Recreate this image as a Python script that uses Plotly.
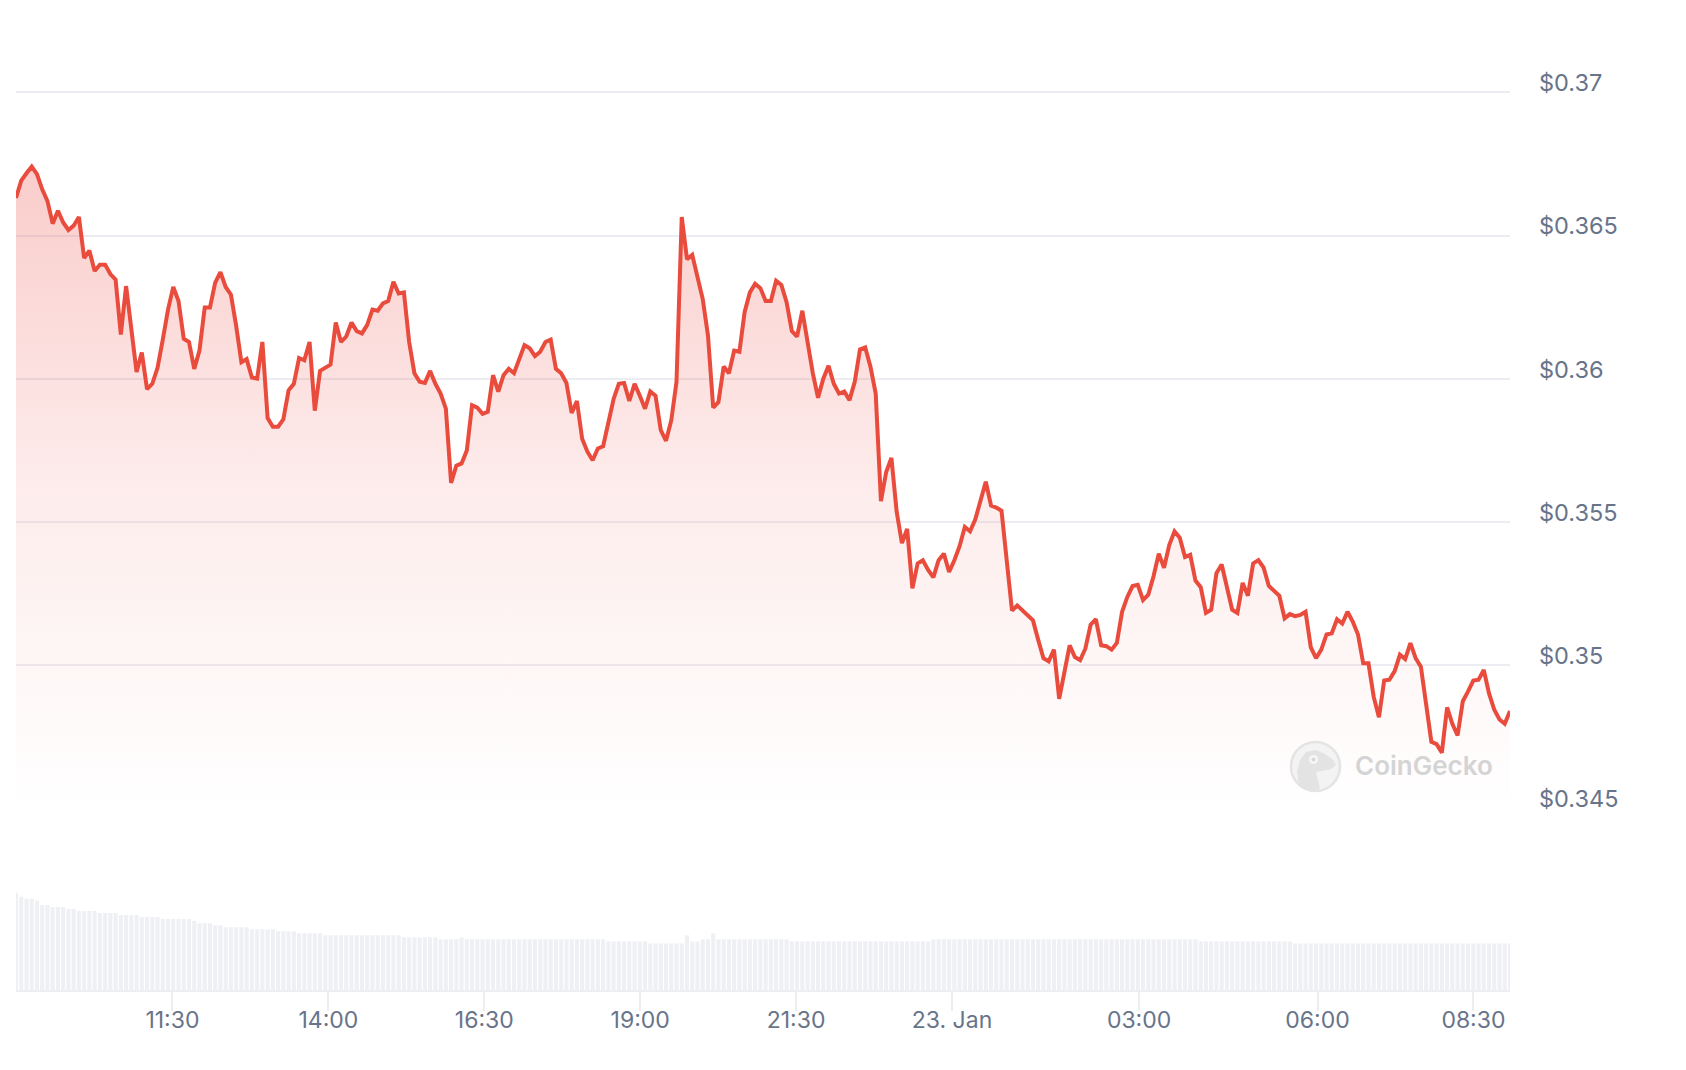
import pandas as pd
import plotly.graph_objects as go

# ---------------- data ----------------
start_time = "2025-01-22 08:59:30"
step_seconds = 302.6          # sampling step of the series
gap_after_index = 231         # a short hole in the data (early on 23 Jan) ...
gap_seconds = 500             # ... that the time axis compresses

prices = [
    0.36632, 0.36692, 0.36718, 0.36741, 0.36715, 0.36662, 0.36621, 0.36542, 0.36587, 0.36546,
    0.36520, 0.36535, 0.36565, 0.36422, 0.36448, 0.36377, 0.36399, 0.36399, 0.36366, 0.36347,
    0.36155, 0.36324, 0.36174, 0.36024, 0.36092, 0.35964, 0.35983, 0.36039, 0.36137, 0.36242,
    0.36321, 0.36272, 0.36140, 0.36129, 0.36035, 0.36099, 0.36249, 0.36249, 0.36336, 0.36373,
    0.36321, 0.36294, 0.36185, 0.36058, 0.36069, 0.36005, 0.36001, 0.36129, 0.35863, 0.35833,
    0.35833, 0.35859, 0.35960, 0.35983, 0.36073, 0.36065, 0.36129, 0.35889, 0.36028, 0.36039,
    0.36050, 0.36197, 0.36129, 0.36148, 0.36197, 0.36167, 0.36159, 0.36189, 0.36242, 0.36238,
    0.36264, 0.36272, 0.36339, 0.36298, 0.36302, 0.36129, 0.36020, 0.35990, 0.35986, 0.36028,
    0.35983, 0.35949, 0.35896, 0.35637, 0.35697, 0.35705, 0.35750, 0.35908, 0.35900, 0.35878,
    0.35885, 0.36013, 0.35956, 0.36013, 0.36035, 0.36020, 0.36073, 0.36118, 0.36107, 0.36080,
    0.36095, 0.36129, 0.36137, 0.36035, 0.36020, 0.35986, 0.35881, 0.35923, 0.35791, 0.35746,
    0.35716, 0.35757, 0.35765, 0.35848, 0.35930, 0.35983, 0.35986, 0.35923, 0.35983, 0.35941,
    0.35896, 0.35956, 0.35941, 0.35821, 0.35784, 0.35855, 0.35990, 0.36565, 0.36418, 0.36433,
    0.36362, 0.36279, 0.36152, 0.35900, 0.35919, 0.36043, 0.36020, 0.36099, 0.36095, 0.36234,
    0.36302, 0.36332, 0.36317, 0.36272, 0.36272, 0.36343, 0.36328, 0.36268, 0.36167, 0.36148,
    0.36238, 0.36129, 0.36020, 0.35934, 0.36001, 0.36046, 0.35983, 0.35949, 0.35956, 0.35926,
    0.35990, 0.36103, 0.36110, 0.36043, 0.35949, 0.35573, 0.35675, 0.35724, 0.35536, 0.35427,
    0.35476, 0.35269, 0.35356, 0.35367, 0.35333, 0.35307, 0.35367, 0.35390, 0.35326, 0.35367,
    0.35416, 0.35483, 0.35468, 0.35510, 0.35570, 0.35641, 0.35558, 0.35551, 0.35540, 0.35367,
    0.35191, 0.35209, 0.35191, 0.35176, 0.35157, 0.35089, 0.35025, 0.35014, 0.35055, 0.34883,
    0.34977, 0.35070, 0.35029, 0.35018, 0.35059, 0.35142, 0.35161, 0.35070, 0.35067, 0.35055,
    0.35078, 0.35187, 0.35239, 0.35277, 0.35281, 0.35228, 0.35247, 0.35311, 0.35390, 0.35341,
    0.35420, 0.35468, 0.35446, 0.35378, 0.35386, 0.35296, 0.35273, 0.35183, 0.35194, 0.35322,
    0.35352, 0.35273, 0.35194, 0.35183, 0.35288, 0.35243, 0.35356, 0.35367, 0.35341, 0.35277,
    0.35258, 0.35243, 0.35164, 0.35179, 0.35172, 0.35176, 0.35187, 0.35063, 0.35025, 0.35055,
    0.35108, 0.35112, 0.35161, 0.35146, 0.35187, 0.35153, 0.35108, 0.35007, 0.35007, 0.34890,
    0.34819, 0.34947, 0.34950, 0.34980, 0.35037, 0.35022, 0.35078, 0.35025, 0.34995, 0.34875,
    0.34733, 0.34725, 0.34695, 0.34853, 0.34796, 0.34755, 0.34875, 0.34909, 0.34947, 0.34950,
    0.34984, 0.34902, 0.34845, 0.34811, 0.34796, 0.34841,
]

volumes = [
    288, 276, 270, 270, 264, 252, 252, 246, 246, 246,
    240, 240, 234, 234, 234, 234, 228, 228, 228, 228,
    222, 222, 222, 222, 216, 216, 216, 216, 210, 210,
    210, 210, 210, 210, 204, 198, 198, 198, 192, 192,
    186, 186, 186, 186, 186, 180, 180, 180, 180, 180,
    174, 174, 174, 174, 168, 168, 168, 168, 168, 162,
    162, 162, 162, 162, 162, 162, 162, 162, 162, 162,
    162, 162, 162, 162, 156, 156, 156, 156, 156, 156,
    156, 150, 150, 150, 150, 156, 150, 150, 150, 150,
    150, 150, 150, 150, 150, 150, 150, 150, 150, 150,
    150, 150, 150, 150, 150, 150, 150, 150, 150, 150,
    150, 150, 150, 144, 144, 144, 144, 144, 144, 144,
    144, 138, 138, 138, 138, 138, 138, 138, 162, 144,
    144, 150, 150, 168, 150, 150, 150, 150, 150, 150,
    150, 150, 150, 150, 150, 150, 150, 150, 144, 144,
    144, 144, 144, 144, 144, 144, 144, 144, 144, 144,
    144, 144, 144, 144, 144, 144, 144, 144, 144, 144,
    144, 144, 144, 144, 144, 150, 150, 150, 150, 150,
    150, 150, 150, 150, 150, 150, 150, 150, 150, 150,
    150, 150, 150, 150, 150, 150, 150, 150, 150, 150,
    150, 150, 150, 150, 150, 150, 150, 150, 150, 150,
    150, 150, 150, 150, 150, 150, 150, 150, 150, 150,
    150, 150, 150, 150, 150, 150, 144, 144, 144, 144,
    144, 144, 144, 144, 144, 144, 144, 144, 144, 144,
    144, 144, 144, 144, 138, 138, 138, 138, 138, 138,
    138, 138, 138, 138, 138, 138, 138, 138, 138, 138,
    138, 138, 138, 138, 138, 138, 138, 138, 138, 138,
    138, 138, 138, 138, 138, 138, 138, 138, 138, 138,
    138, 138, 138, 138, 138, 138,
]

x_tick_values = [
    "2025-01-22 11:30", "2025-01-22 14:00", "2025-01-22 16:30", "2025-01-22 19:00",
    "2025-01-22 21:30", "2025-01-23 00:00", "2025-01-23 03:00", "2025-01-23 06:00",
    "2025-01-23 08:30",
]
x_tick_labels = ["11:30", "14:00", "16:30", "19:00", "21:30", "23. Jan", "03:00", "06:00", "08:30"]

y_tick_values = [0.345, 0.35, 0.355, 0.36, 0.365, 0.37]
y_tick_labels = ["$0.345", "$0.35", "$0.355", "$0.36", "$0.365", "$0.37"]

# timestamps: regular sampling with one hole after gap_after_index
t0 = pd.Timestamp(start_time)
step = pd.Timedelta(seconds=step_seconds)
gap = pd.Timedelta(seconds=gap_seconds)
times = [t0 + i * step + (gap if i > gap_after_index else pd.Timedelta(0)) for i in range(len(prices))]
break_start = times[gap_after_index] + step / 2
break_end = break_start + gap

# ---------------- styling ----------------
# the page body adds an 8px offset, so the figure is 8px smaller on each side
OFF = 8
W, H = 1670, 1054
ML, MR, MT, MB = 8, 168, 0, 72
PW, PH = W - ML - MR, H - MT - MB

LINE = "#e94b3c"
LABEL = "#677489"
GRID = "#ecedf2"
FONT = "Inter"


def px(x, y):
    """page pixel -> paper coords"""
    x -= OFF
    y -= OFF
    return (x - ML) / PW, (PH - (y - MT)) / PH


fig = go.Figure()

fig.add_trace(go.Bar(
    x=times, y=volumes, yaxis="y2", xaxis="x",
    marker=dict(color="#eff0f4", line=dict(width=0)),
    hoverinfo="skip", showlegend=False,
))

fig.add_trace(go.Scatter(
    x=times, y=prices, yaxis="y", xaxis="x",
    mode="lines",
    line=dict(color=LINE, width=4),
    fill="tozeroy",
    fillgradient=dict(
        type="vertical",
        start=0.345, stop=0.3675,
        colorscale=[[0, "rgba(234,67,60,0.0)"], [0.5, "rgba(234,67,60,0.10)"], [1, "rgba(234,67,60,0.27)"]],
    ),
    showlegend=False,
))

# watermark logo shapes
cx0, cy0 = px(1291, 742)
cx1, cy1 = px(1340, 791)
shapes = [
    dict(type="circle", xref="paper", yref="paper", x0=cx0, y0=cy1, x1=cx1, y1=cy0,
         fillcolor="rgba(242,242,242,0.9)", line=dict(color="#e4e4e4", width=2.5), layer="above"),
]
gecko_pts = [(1299, 786), (1297, 772), (1300, 760), (1306, 752), (1316, 750), (1325, 754),
             (1333, 760), (1336, 765), (1331, 769), (1322, 771), (1316, 772), (1318, 781), (1320, 789),
             (1310, 791)]
path = ""
for k, (gx, gy) in enumerate(gecko_pts):
    a, b = px(gx, gy)
    path += ("M" if k == 0 else "L") + f"{a:.5f},{b:.5f} "
path += "Z"
shapes.append(dict(type="path", xref="paper", yref="paper", path=path,
                   fillcolor="#e3e3e3", line=dict(width=0), layer="above"))
ex0, ey0 = px(1309, 755)
ex1, ey1 = px(1318, 764)
shapes.append(dict(type="circle", xref="paper", yref="paper", x0=ex0, y0=ey1, x1=ex1, y1=ey0,
                   fillcolor="#f7f7f7", line=dict(color="#f7f7f7", width=0), layer="above"))
ex0, ey0 = px(1311.5, 757.5)
ex1, ey1 = px(1315.5, 761.5)
shapes.append(dict(type="circle", xref="paper", yref="paper", x0=ex0, y0=ey1, x1=ex1, y1=ey0,
                   fillcolor="#d8d8d8", line=dict(width=0), layer="above"))

tx, ty = px(1353, 766)

# pane positions (page pixels): 0.345 grid at 808.6, top of range at 49.5, axis line at 990
_, price_bot = px(0, 808.6)
_, price_top = px(0, 49.5)
_, vol_top = px(0, 989.5 - 100.8)

fig.update_layout(
    width=W, height=H,
    margin=dict(l=ML, r=MR, t=MT, b=MB),
    paper_bgcolor="white", plot_bgcolor="white",
    bargap=0.22,
    hovermode=False,
    showlegend=False,
    shapes=shapes,
    annotations=[dict(
        text="CoinGecko", xref="paper", yref="paper", x=tx, y=ty,
        xanchor="left", yanchor="middle", showarrow=False,
        font=dict(family=FONT, size=26, color="#d4d4d4", weight=600),
    )],
    xaxis=dict(
        anchor="y2",
        range=[times[0], times[-1]],
        rangebreaks=[dict(bounds=[break_start, break_end])],
        showgrid=False, zeroline=False,
        showline=True, linecolor="#eceef2", linewidth=2,
        ticks="outside", ticklen=19, tickwidth=2, tickcolor="#eceef2",
        ticklabelstandoff=-11,
        tickvals=x_tick_values, ticktext=x_tick_labels,
        tickfont=dict(family=FONT, size=23, color=LABEL),
    ),
    yaxis=dict(
        domain=[price_bot, price_top],
        range=[0.345, 0.3715],
        side="right",
        showgrid=True, gridcolor=GRID, gridwidth=2,
        zeroline=False, showline=False,
        ticks="",
        tickvals=y_tick_values, ticktext=y_tick_labels,
        ticklabelposition="outside top",
        ticklabelstandoff=28,
        ticklabelshift=7,
        tickfont=dict(family=FONT, size=23.5, color=LABEL),
    ),
    yaxis2=dict(
        domain=[0, vol_top],
        range=[0, 300],
        showgrid=False, zeroline=False, showline=False,
        showticklabels=False, ticks="",
    ),
)

fig.write_html("out.html")
